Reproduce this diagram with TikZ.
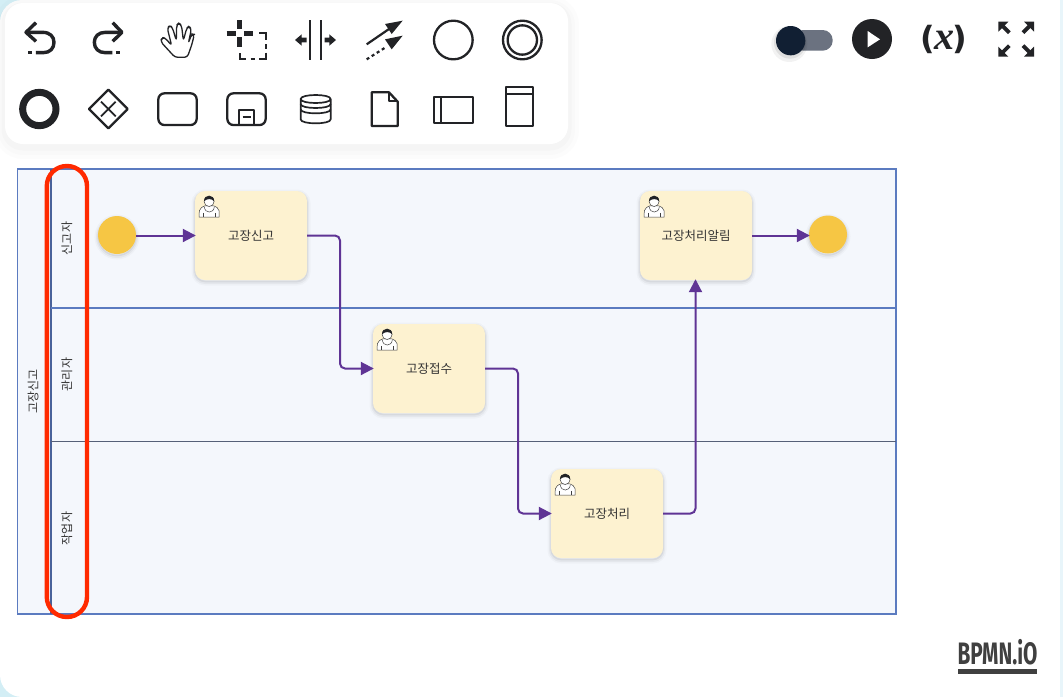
\documentclass[tikz,border=0pt]{standalone}
\usepackage{fontspec}
\newfontfamily\krfont{Noto Sans CJK KR}
\newfontfamily\logofont{Fira Sans}[UprightFont=* Bold]
\newfontfamily\parenfont{DejaVu Sans}[UprightFont=* Bold]
\newfontfamily\varfont{Liberation Serif}[UprightFont=* Bold Italic]
\usetikzlibrary{arrows.meta}
\definecolor{ink}{HTML}{222326}
\definecolor{poolfill}{HTML}{F4F7FC}
\definecolor{poolline}{HTML}{5B7BC0}
\definecolor{midline}{HTML}{566078}
\definecolor{taskfill}{HTML}{FDF2D0}
\definecolor{eventfill}{HTML}{F6C644}
\definecolor{flowcol}{HTML}{5F3495}
\definecolor{redmark}{HTML}{FF2A00}
\definecolor{cornerblue}{HTML}{D3EEF5}
\definecolor{stripblue}{HTML}{E8F5FA}
\definecolor{tracktone}{HTML}{6B7280}
\definecolor{knobtone}{HTML}{111F33}
\definecolor{logotone}{HTML}{404040}
\tikzset{
  softshadow/.style={
    preaction={draw=black,draw opacity=.025,fill=none,line width=7pt,transform canvas={yshift=-2pt}},
    preaction={draw=black,draw opacity=.04,fill=none,line width=4pt,transform canvas={yshift=-2pt}},
    preaction={draw=black,draw opacity=.06,fill=none,line width=1.5pt,transform canvas={yshift=-1.5pt}}},
  tasknode/.style={softshadow,rectangle,rounded corners=10pt,fill=taskfill,minimum width=112pt,minimum height=89pt,inner sep=0pt,font=\krfont\fontsize{12.5}{13}\selectfont,text=black!80},
  eventnode/.style={softshadow,circle,fill=eventfill,minimum size=38pt,inner sep=0pt},
  lanelabel/.style={rotate=90,inner sep=0pt,font=\krfont\fontsize{12}{13}\selectfont,text=black!80},
  flow/.style={draw=flowcol,line width=2pt,rounded corners=5pt,-{Triangle[length=13pt,width=13pt]},shorten >=-1pt},
  iconline/.style={draw=ink,line width=2.3pt,line join=round},
  usericon/.pic={
    \draw[black!75,fill=white,line width=.5pt] (4.3,26.3) -- (4.5,20) .. controls (5,17) and (8,16) .. (10,15) -- (19,15) .. controls (21,16) and (24,17) .. (24.3,20) -- (24.3,26.3) -- cycle;
    \draw[black!75,line width=.5pt] (9.5,16) .. controls (10,23) and (19,23) .. (19.5,16);
    \draw[black!75,line width=.5pt] (8,22) -- (8,26.3) (20.8,22) -- (20.8,26.3);
    \draw[black!75,fill=white,line width=.5pt] (14.3,10.7) circle (5);
    \fill[ink] (9.2,10.5) .. controls (8.8,3) and (19.8,3) .. (19.4,10.5) .. controls (17,7.5) and (12,7.5) .. cycle;
  }
}
\begin{document}
\begin{tikzpicture}[x=1pt,y=-1pt]
\useasboundingbox (0,0) rectangle (1063,697);
% window
\fill[white] (0,0) rectangle (1063,697);
\fill[cornerblue] (0,0) rectangle (30,30);
\fill[cornerblue] (0,667) rectangle (30,697);
\fill[white,rounded corners=22pt] (0,0) rectangle (80,697);
\fill[white] (40,0) rectangle (1060,697);
\fill[stripblue] (1060,0) rectangle (1063,697);
% palette
\path[fill=white,rounded corners=18pt,
  preaction={draw=black,draw opacity=.010,fill=none,line width=22pt,transform canvas={yshift=-4pt}},
  preaction={draw=black,draw opacity=.012,fill=none,line width=14pt,transform canvas={yshift=-4pt}},
  preaction={draw=black,draw opacity=.015,fill=none,line width=7pt,transform canvas={yshift=-3pt}}]
  (5,3) rectangle (568,144);
% pool
\draw[poolline,line width=1.3pt,fill=poolfill] (17.5,169) rectangle (896,614);
\draw[poolline!80!black,line width=1.3pt] (51,169) -- (51,614);
\draw[poolline,line width=1.1pt] (51,308) -- (896,308);
\draw[midline,line width=.8pt] (51,441) -- (896,441);
\node[lanelabel] (poolname) at (33,391.5) {고장신고};
\node[lanelabel] (lane1) at (67,238.5) {신고자};
\node[lanelabel] (lane2) at (67,374.5) {관리자};
\node[lanelabel] (lane3) at (67,528.5) {작업자};
% flow nodes
\node[eventnode] (start) at (117,235) {};
\node[tasknode] (t1) at (251,235.5) {고장신고};
\node[tasknode] (t2) at (429,368.5) {고장접수};
\node[tasknode] (t3) at (607,513.5) {고장처리};
\node[tasknode] (t4) at (696,235.5) {고장처리알림};
\node[eventnode] (end) at (828,234.5) {};
\pic at (t1.north west) {usericon};
\pic at (t2.north west) {usericon};
\pic at (t3.north west) {usericon};
\pic at (t4.north west) {usericon};
\coordinate (m1) at (340,300);
\coordinate (m2) at (518,440);
\coordinate (m3) at (695.5,400);
\draw[flow] (t1.west -| start.east) -- (t1.west);
\draw[flow] (t1.east) -- (m1 |- t1.east) -- (m1 |- t2.west) -- (t2.west);
\draw[flow] (t2.east) -- (m2 |- t2.east) -- (m2 |- t3.west) -- (t3.west);
\draw[flow] (t3.east) -- (m3 |- t3.east) -- (m3 |- t4.south);
\draw[flow] (t4.east) -- (t4.east -| end.west);
% red mark
\draw[redmark,line width=4.4pt,rounded corners=20pt] (46.8,166) rectangle (87,617);
% icons, coordinates read at 3x
\begin{scope}[x=.33333pt,y=-.33333pt]
 % undo
 \draw[iconline,line width=3.4pt] (108,68) -- (78,97) -- (108,124);
 \draw[iconline,line width=3.4pt] (78,97) -- (128,97) .. controls (150,97) and (162,110) .. (162,127) .. controls (162,145) and (150,158) .. (130,158) -- (108,158);
 \draw[iconline,line width=3.4pt] (85,158) -- (97,158);
 % redo
 \draw[iconline,line width=3.4pt] (338,68) -- (366,97) -- (338,124);
 \draw[iconline,line width=3.4pt] (366,97) -- (316,97) .. controls (295,97) and (283,110) .. (283,127) .. controls (283,145) and (295,158) .. (316,158) -- (337,158);
 \draw[iconline,line width=3.4pt] (348,158) -- (360,158);
 % hand
 \draw[iconline,line width=1.3pt,rounded corners=3pt] (525,172) -- (482,125) -- (486,112) -- (497,115) -- (515,137) -- (502,85) -- (510,75) -- (518,85) -- (529,122) -- (530,75) -- (537,68) -- (545,78) -- (550,122) -- (560,85) -- (567,78) -- (574,88) -- (565,130) -- (575,102) -- (583,103) -- (576,132) -- (562,172) -- cycle;
 % lasso
 \draw[ink,line width=5pt] (680,100) -- (708,100) (732,100) -- (760,100) (720,60) -- (720,88) (720,112) -- (720,140);
 \draw[ink,line width=2.1pt] (778,100) -- (798,100) -- (798,120) (798,132) -- (798,146) (798,158) -- (798,178) -- (778,178) (752,178) -- (765,178) (738,178) -- (720,178) -- (720,158);
 % row two, left
 \draw[ink,line width=7pt] (118,327) circle (50);
 \draw[iconline] (325,269) -- (383,327) -- (325,385) -- (267,327) -- cycle;
 \draw[ink,line width=1.8pt] (303,305) -- (347,349) (347,305) -- (303,349);
 \draw[iconline,rounded corners=6pt] (475,280) rectangle (590,375);
 \draw[iconline,rounded corners=6pt] (682,280) rectangle (797,375);
 \draw[iconline] (718,375) -- (718,330) -- (762,330) -- (762,375);
 \draw[ink,line width=1.9pt] (728,352) -- (752,352);
 % right part of palette
 \begin{scope}[xshift=280pt]
 \draw[ink,line width=2.2pt] (90,60) -- (90,180) (122,60) -- (122,180);
 \fill[ink] (45,120) -- (65,103) -- (65,113) -- (80,113) -- (80,127) -- (65,127) -- (65,137) -- cycle;
 \fill[ink] (168,120) -- (148,103) -- (148,113) -- (134,113) -- (134,127) -- (148,127) -- (148,137) -- cycle;
 \draw[ink,line width=2.2pt] (260,133) -- (330,85);
 \fill[ink] (368,62) -- (315,72) -- (335,102) -- cycle;
 \draw[ink,line width=2.2pt,dash pattern=on 3pt off 3pt] (260,178) -- (320,140);
 \fill[ink] (368,107) -- (315,118) -- (335,148) -- cycle;
 \draw[iconline] (520,120) circle (58);
 \draw[iconline] (727,120) circle (58);
 \draw[iconline] (727,120) circle (44);
 % data store
 \draw[iconline,line width=1.7pt] (62,297) .. controls (62,281) and (152,281) .. (152,297) .. controls (152,313) and (62,313) .. (62,297) -- (62,358) .. controls (62,374) and (152,374) .. (152,358) -- (152,297);
 \draw[iconline,line width=1.7pt] (62,312) .. controls (62,328) and (152,328) .. (152,312);
 \draw[iconline,line width=1.7pt] (62,328) .. controls (62,344) and (152,344) .. (152,328);
 % data object
 \draw[iconline] (275,277) -- (327,277) -- (353,305) -- (353,378) -- (275,378) -- cycle;
 \draw[iconline,line width=1.8pt] (327,277) -- (327,302) -- (353,302);
 % horizontal pool
 \draw[iconline] (462,290) rectangle (580,368);
 \draw[iconline] (482,290) -- (482,368);
 % vertical pool
 \draw[iconline] (678,262) rectangle (758,378);
 \draw[iconline] (678,281) -- (758,281);
 \end{scope}
 % top right controls
 \begin{scope}[xshift=760pt]
 \fill[tracktone,rounded corners=10pt] (100,90) rectangle (218,152);
 \fill[black,opacity=.05] (88,132) circle (54);
 \fill[black,opacity=.08] (90,128) circle (48);
 \fill[knobtone] (92,122) circle (44);
 \fill[ink] (336,117) circle (60);
 \fill[white] (323,93) -- (323,142) -- (360,118) -- cycle;
 \foreach \hx/\hy/\dx/\dy in {715/65/1/1,822/65/-1/1,715/170/1/-1,822/170/-1/-1}{
   \fill[ink] (\hx,\hy) -- ++(\dx*30,0) -- ++(\dx*-30,\dy*30) -- cycle;
   \draw[ink,line width=3.8pt] (\hx+\dx*8,\hy+\dy*8) -- (\hx+\dx*33,\hy+\dy*33);
 }
 \end{scope}
\end{scope}
\node[inner sep=0pt,text=ink,font=\parenfont\fontsize{32}{33}\selectfont] (vars) at (944,39) {(\hspace{-1.5pt}{\varfont\fontsize{40}{40}\selectfont x}\hspace{-1.5pt})};
% logo
\node[inner sep=0pt,anchor=base,xscale=.67,text=logotone,font=\logofont\fontsize{31}{32}\selectfont] (logo) at (997.5,664.5) {BPMN.iO};
\fill[logotone] (958,668.5) rectangle (1037,674);
\end{tikzpicture}
\end{document}
